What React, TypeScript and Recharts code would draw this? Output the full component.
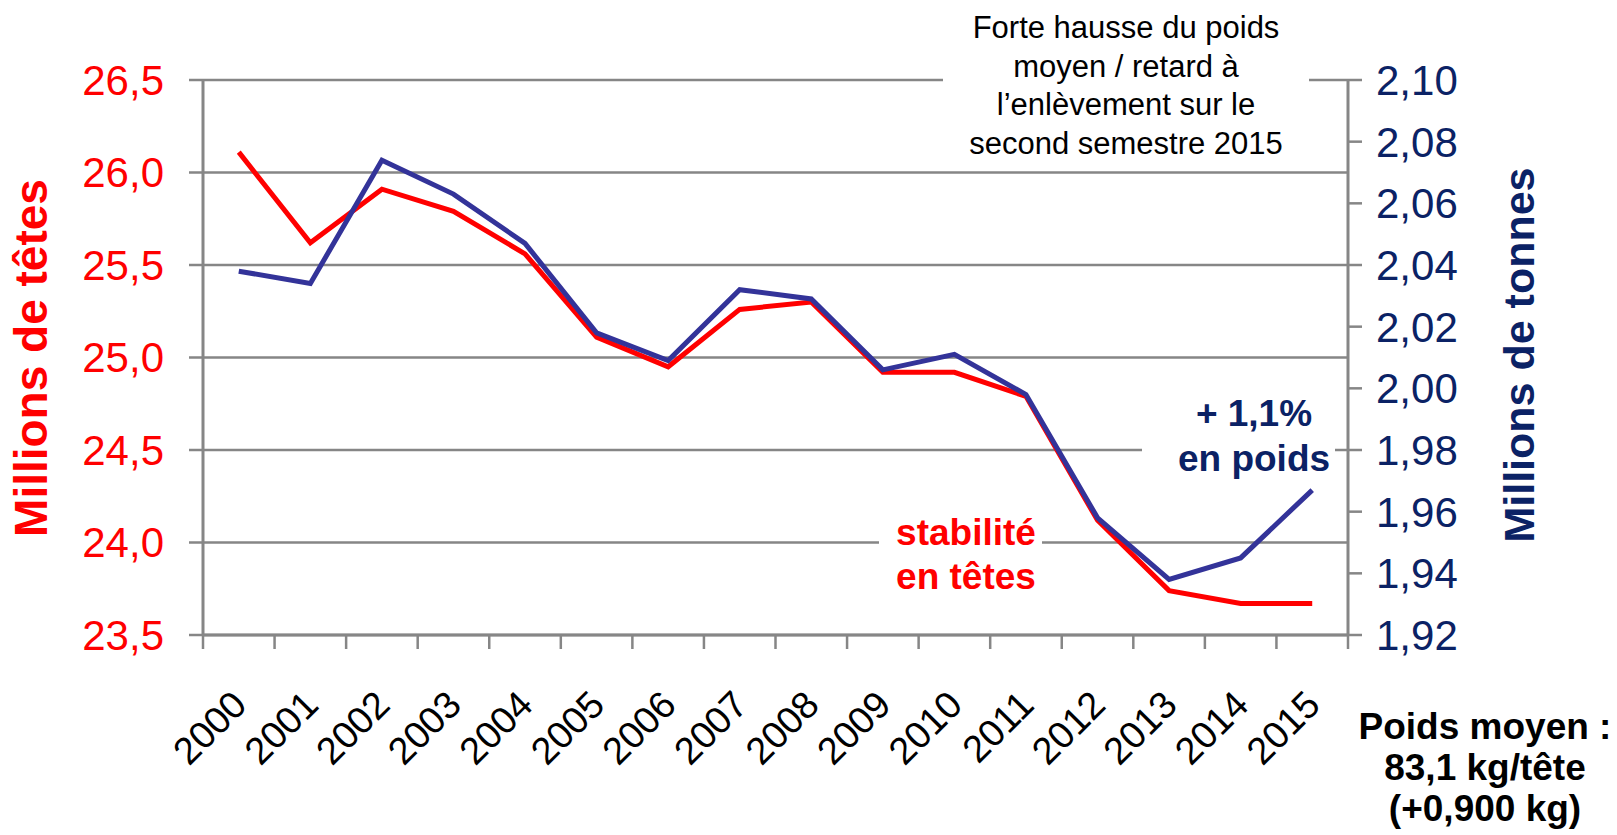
import React from 'react';
import { LineChart, Line, XAxis, YAxis, CartesianGrid } from 'recharts';

const years = ['2000', '2001', '2002', '2003', '2004', '2005', '2006', '2007', '2008', '2009', '2010', '2011', '2012', '2013', '2014', '2015'];
const tetes = [26.11, 25.62, 25.91, 25.79, 25.56, 25.11, 24.95, 25.26, 25.3, 24.92, 24.92, 24.79, 24.12, 23.74, 23.67, 23.67];
const tonnes = [2.038, 2.034, 2.074, 2.063, 2.047, 2.018, 2.009, 2.032, 2.029, 2.006, 2.011, 1.998, 1.958, 1.938, 1.945, 1.967];
const leftTicks = [23.5, 24.0, 24.5, 25.0, 25.5, 26.0, 26.5];
const rightTicks = [1.92, 1.94, 1.96, 1.98, 2.0, 2.02, 2.04, 2.06, 2.08, 2.1];

const annotationTop = ['Forte hausse du poids', 'moyen / retard à', 'l’enlèvement sur le', 'second semestre 2015'];
const annotationWeight = ['+ 1,1%', 'en poids'];
const annotationHeads = ['stabilité', 'en têtes'];
const annotationAvg = ['Poids moyen :', '83,1 kg/tête', '(+0,900 kg)'];
const leftTitle = 'Millions de têtes';
const rightTitle = 'Millions de tonnes';

const data = years.map((y, i) => ({ idx: i, year: y, tetes: tetes[i], tonnes: tonnes[i] }));
const xTicks: number[] = [];
years.forEach((_, i) => { xTicks.push(i - 0.5); xTicks.push(i); });
xTicks.push(years.length - 0.5);

const FONT = '"Liberation Sans", Arial, sans-serif';
const GRID = '#868686';
const RED = '#FF0000';
const NAVY = '#0B2265';
const BLUE = '#333399';

const XTick = (props: any) => {
  const { x, y, payload } = props;
  const v = payload.value as number;
  if (!Number.isInteger(v)) {
    return <line x1={x} y1={y} x2={x} y2={y + 14} stroke={GRID} strokeWidth={2.5} />;
  }
  const ex = x + 10;
  const ey = y + 72;
  return (
    <text x={ex} y={ey} transform={`rotate(-45 ${ex} ${ey})`} textAnchor="end" fontSize={38} fontFamily={FONT} fill="#000">
      {years[v]}
    </text>
  );
};

const whiteRect = (left: number, top: number, width: number, height: number) => (
  <div style={{ position: 'absolute', left, top, width, height, background: '#fff' }} />
);

const textBlock = (cx: number, top: number, lh: number, size: number, color: string, bold: boolean, lines: string[]) => (
  <div
    style={{
      position: 'absolute', left: cx - 200, top, width: 400, textAlign: 'center',
      fontFamily: FONT, fontSize: size, lineHeight: `${lh}px`, color, fontWeight: bold ? 'bold' : 'normal', whiteSpace: 'nowrap',
    }}
  >
    {lines.map((l, i) => <div key={i}>{l}</div>)}
  </div>
);

export default function App() {
  return (
    <div style={{ position: 'absolute', left: 0, top: 0, width: 1617, height: 835, background: '#fff', overflow: 'hidden' }}>
      <LineChart width={1617} height={835} data={data} margin={{ top: 80, left: 103, right: 169, bottom: 100 }}>
        <CartesianGrid yAxisId="L" vertical={false} stroke={GRID} strokeWidth={2.5} />
        <XAxis
          type="number" dataKey="idx" domain={[-0.5, years.length - 0.5]} ticks={xTicks} interval={0}
          tick={<XTick />} tickLine={false} tickSize={0} tickMargin={0} height={100}
          axisLine={{ stroke: GRID, strokeWidth: 3 }}
        />
        <YAxis
          yAxisId="L" domain={[23.5, 26.5]} ticks={leftTicks} width={100} tickSize={14} tickMargin={25}
          tickFormatter={(v: number) => v.toFixed(1).replace('.', ',')}
          tick={{ fill: RED, fontSize: 42, fontFamily: FONT }}
          axisLine={{ stroke: GRID, strokeWidth: 3 }} tickLine={{ stroke: GRID, strokeWidth: 2.5 }}
        />
        <YAxis
          yAxisId="R" orientation="right" domain={[1.92, 2.1]} ticks={rightTicks} width={100} tickSize={14} tickMargin={14}
          tickFormatter={(v: number) => v.toFixed(2).replace('.', ',')}
          tick={{ fill: NAVY, fontSize: 42, fontFamily: FONT }}
          axisLine={{ stroke: GRID, strokeWidth: 3 }} tickLine={{ stroke: GRID, strokeWidth: 2.5 }}
        />
        <Line yAxisId="L" type="linear" dataKey="tetes" stroke={RED} strokeWidth={5} dot={false} isAnimationActive={false} />
        <Line yAxisId="R" type="linear" dataKey="tonnes" stroke={BLUE} strokeWidth={5} dot={false} isAnimationActive={false} />
      </LineChart>
      {whiteRect(943, 9, 366, 154)}
      {textBlock(1126, 9, 38.5, 31, '#000', false, annotationTop)}
      {whiteRect(1142, 391, 193, 90)}
      {textBlock(1254, 391, 45, 37, NAVY, true, annotationWeight)}
      {whiteRect(879, 511, 163, 88)}
      {textBlock(966, 511, 44, 37, RED, true, annotationHeads)}
      {textBlock(1485, 706, 41, 37, '#000', true, annotationAvg)}
      <div style={{ position: 'absolute', left: 31, top: 358, transform: 'translate(-50%, -50%) rotate(-90deg)', fontFamily: FONT, fontWeight: 'bold', fontSize: 46, color: RED, whiteSpace: 'nowrap' }}>
        {leftTitle}
      </div>
      <div style={{ position: 'absolute', left: 1519, top: 355, transform: 'translate(-50%, -50%) rotate(-90deg)', fontFamily: FONT, fontWeight: 'bold', fontSize: 43, color: NAVY, whiteSpace: 'nowrap' }}>
        {rightTitle}
      </div>
    </div>
  );
}
